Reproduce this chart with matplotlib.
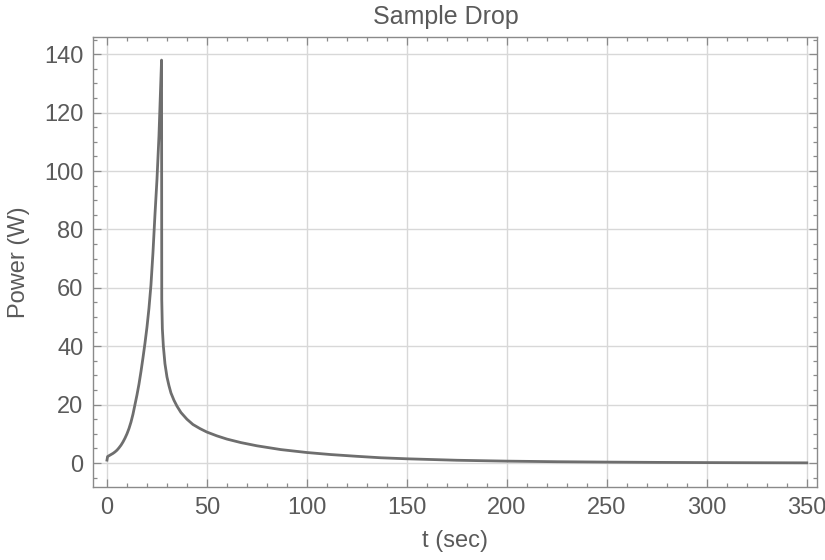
import matplotlib
matplotlib.use("Agg")
import matplotlib.pyplot as plt
from matplotlib.ticker import MultipleLocator

plt.rcParams['font.family'] = ['Liberation Sans Narrow', 'Liberation Sans', 'DejaVu Sans']

# values
t_sec = [0, 0.3, 1, 2, 3, 4, 5, 6, 7, 8, 9, 10, 11, 12, 13, 14, 15, 16, 17, 18, 19, 20,
         21, 22, 23, 24, 25, 26, 26.7, 27.3,
         27.4, 27.7, 28.2, 29, 30, 31, 32, 33.5, 35, 37, 40, 43, 46.5, 50, 55, 60, 67, 75,
         87, 100, 112, 125, 137, 150, 175, 200, 225, 250, 275, 300, 325, 350]
power_w = [1.0, 2.2, 2.5, 2.9, 3.3, 3.8, 4.4, 5.2, 6.1, 7.2, 8.5, 10, 11.8, 14, 16.7, 20, 23.3, 27,
           31.3, 36, 41, 46.5, 53, 61, 72, 85, 97, 112, 126, 138,
           56, 46, 40, 34, 29.5, 26.5, 24, 21.5, 19.5, 17.3, 15, 13.2, 11.8, 10.6, 9.3, 8.2, 7.0,
           5.9, 4.6, 3.6, 2.9, 2.3, 1.8, 1.45, 0.95, 0.65, 0.45, 0.32, 0.22, 0.15, 0.1, 0.06]

x_ticks = [0, 50, 100, 150, 200, 250, 300, 350]
y_ticks = [0, 20, 40, 60, 80, 100, 120, 140]

text_col = '#5a5a5a'
frame_col = '#8a8a8a'

fig = plt.figure(figsize=(8.25, 5.6), dpi=100)
ax = fig.add_axes([0.1127, 0.1304, 0.8773, 0.8035])

ax.plot(t_sec, power_w, color='#6e6e6e', lw=2.0)

ax.set_xlim(-7, 355)
ax.set_ylim(-8.2, 145.9)
ax.set_xticks(x_ticks)
ax.set_yticks(y_ticks)
ax.xaxis.set_minor_locator(MultipleLocator(10))
ax.yaxis.set_minor_locator(MultipleLocator(5))
ax.grid(True, which='major', color='#d8d8d8', lw=1.0)
ax.set_axisbelow(True)

ax.tick_params(which='both', direction='in', top=True, right=True, color=frame_col,
               labelcolor=text_col, labelsize=17, width=0.9)
ax.tick_params(which='major', length=5.5, pad=7)
ax.tick_params(which='minor', length=3)
for s in ax.spines.values():
    s.set_color(frame_col)
    s.set_linewidth(1.0)

ax.set_xlabel('t (sec)', fontsize=17, color=text_col, labelpad=8)
ax.set_ylabel('Power (W)', fontsize=17, color=text_col, labelpad=10)
fig.text(0.541, 0.949, 'Sample Drop', fontsize=18, color=text_col, ha='center', va='bottom')

fig.savefig('out.png', dpi=100, facecolor='white')
